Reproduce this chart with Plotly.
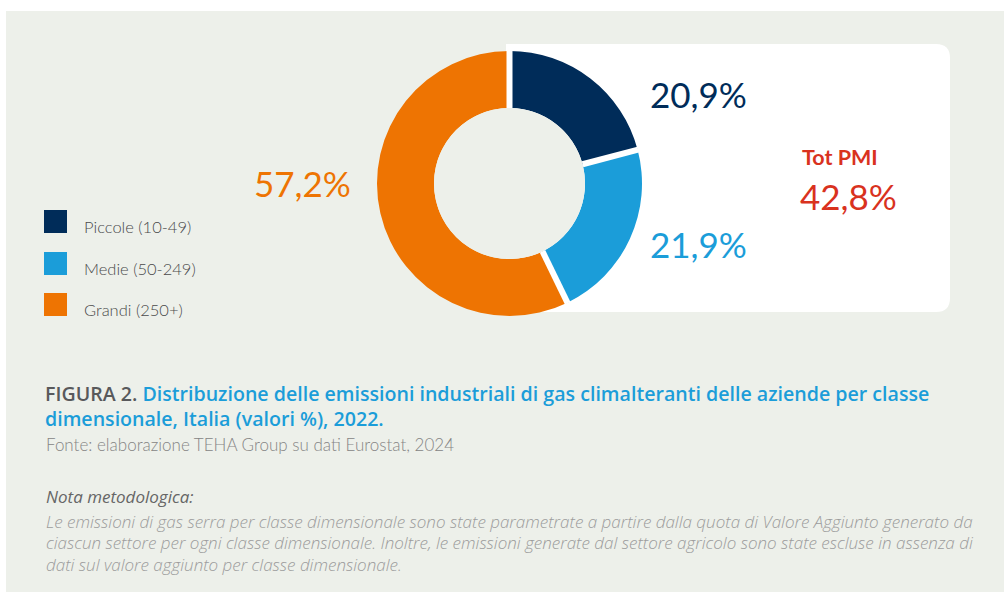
import math
import plotly.graph_objects as go

# ---------------- data ----------------
categories = ["Piccole (10-49)", "Medie (50-249)", "Grandi (250+)"]
values = [20.9, 21.9, 57.2]
colors = ["#002C59", "#1B9DD9", "#EE7402"]
tot_label = "Tot PMI"
tot_value = round(values[0] + values[1], 1)

title_prefix = "FIGURA 2."
title_lines = ["Distribuzione delle emissioni industriali di gas climalteranti delle aziende per classe",
               "dimensionale, Italia (valori %), 2022."]
source_text = "Fonte: elaborazione TEHA Group su dati Eurostat, 2024"
note_title = "Nota metodologica:"
note_lines = ["Le emissioni di gas serra per classe dimensionale sono state parametrate a partire dalla quota di Valore Aggiunto generato da",
              "ciascun settore per ogni classe dimensionale. Inoltre, le emissioni generate dal settore agricolo sono state escluse in assenza di",
              "dati sul valore aggiunto per classe dimensionale."]

def fmt(v):
    return f"{v:.1f}".replace(".", ",") + "%"

# ---------------- geometry (pixels) ----------------
W, H = 1004, 592
BG = "#EDF0EA"
FONT = "Lato"
FONT2 = "Open Sans"

def px(x):
    return x / W

def py(y):
    return 1 - y / H

cx, cy, R = 509.5, 183.5, 132.5
hole = 0.57

fig = go.Figure()
fig.add_trace(go.Pie(
    labels=categories, values=values, sort=False, direction="clockwise", rotation=0,
    hole=hole, marker=dict(colors=colors, line=dict(width=0)),
    textinfo="none", hoverinfo="label+value", showlegend=False,
    domain=dict(x=[px(cx - R), px(cx + R)], y=[py(cy + R), py(cy - R)]),
))

shapes = []
# white strips at top and left (panel is the paper background)
shapes.append(dict(type="rect", xref="paper", yref="paper", x0=0, x1=1, y0=py(11), y1=1,
                   fillcolor="white", line=dict(width=0), layer="below"))
shapes.append(dict(type="rect", xref="paper", yref="paper", x0=0, x1=px(6), y0=0, y1=1,
                   fillcolor="white", line=dict(width=0), layer="below"))
# white box (right rounded corners)
bx0, bx1, by0, by1, r = 506, 950, 44, 312, 14
path = (f"M {px(bx0)} {py(by0)} L {px(bx1 - r)} {py(by0)} Q {px(bx1)} {py(by0)} {px(bx1)} {py(by0 + r)} "
        f"L {px(bx1)} {py(by1 - r)} Q {px(bx1)} {py(by1)} {px(bx1 - r)} {py(by1)} L {px(bx0)} {py(by1)} Z")
shapes.append(dict(type="path", xref="paper", yref="paper", path=path, fillcolor="white",
                   line=dict(width=0), layer="below"))

# donut hole in panel colour
rh = R * hole
shapes.append(dict(type="circle", xref="paper", yref="paper",
                   x0=px(cx - rh), x1=px(cx + rh), y0=py(cy + rh), y1=py(cy - rh),
                   fillcolor=BG, line=dict(width=0), layer="above"))

# white separators between slices, at cumulative angles from the data
total = sum(values)
cum = 0.0
for v in values:
    ang = math.radians(cum / total * 360)
    dx, dy = math.sin(ang), -math.cos(ang)
    r0, r1 = rh, R + 0.5
    shapes.append(dict(type="line", xref="paper", yref="paper",
                       x0=px(cx + dx * r0), y0=py(cy + dy * r0), x1=px(cx + dx * r1), y1=py(cy + dy * r1),
                       line=dict(color="white", width=6), layer="above"))
    cum += v

# legend squares
leg_y = [210, 252, 293]
for c, y in zip(colors, leg_y):
    shapes.append(dict(type="rect", xref="paper", yref="paper", x0=px(44), x1=px(67), y0=py(y + 23), y1=py(y),
                       fillcolor=c, line=dict(width=0), layer="above"))

annotations = []
def ann(text, x, y, size, color, xanchor="left", weight=None, style=None, family=FONT):
    f = dict(family=family, size=size, color=color)
    if weight:
        f["weight"] = weight
    if style:
        f["style"] = style
    annotations.append(dict(text=text, x=px(x), y=py(y), xref="paper", yref="paper", showarrow=False,
                            xanchor=xanchor, yanchor="middle", font=f, align="left"))

for cat, y in zip(categories, leg_y):
    ann(cat, 82, y + 17, 16.5, "#4A4A4A", weight=300)

# value labels
ann(fmt(values[0]), 648, 94, 35, colors[0])
ann(fmt(values[1]), 648, 244, 35, colors[1])
ann(fmt(values[2]), 353, 183, 35, colors[2], xanchor="right")
ann(f"<b>{tot_label}</b>", 800, 157, 21.5, "#D9321E")
ann(fmt(tot_value), 798, 196, 35, "#D9321E")

# caption
ann(f"<span style='color:#58595B'>{title_prefix}</span> {title_lines[0]}<br>{title_lines[1]}",
    43, 406, 19.6, "#1B9DD9", weight=600, family=FONT2)
ann(source_text, 44, 444, 17, "#858585", weight=300)
ann(note_title, 44, 497, 17, "#666666", style="italic", family=FONT2)
for i, line in enumerate(note_lines):
    ann(line, 44, 521 + i * 21.5, 17, "#9C9C9C", style="italic", weight=300, family=FONT2)

fig.update_layout(
    width=W, height=H, margin=dict(l=0, r=0, t=0, b=0),
    paper_bgcolor=BG, plot_bgcolor=BG,
    shapes=shapes, annotations=annotations,
)

fig.write_html("out.html", config={"displayModeBar": False},
               post_script="document.body.style.margin='0px';")
